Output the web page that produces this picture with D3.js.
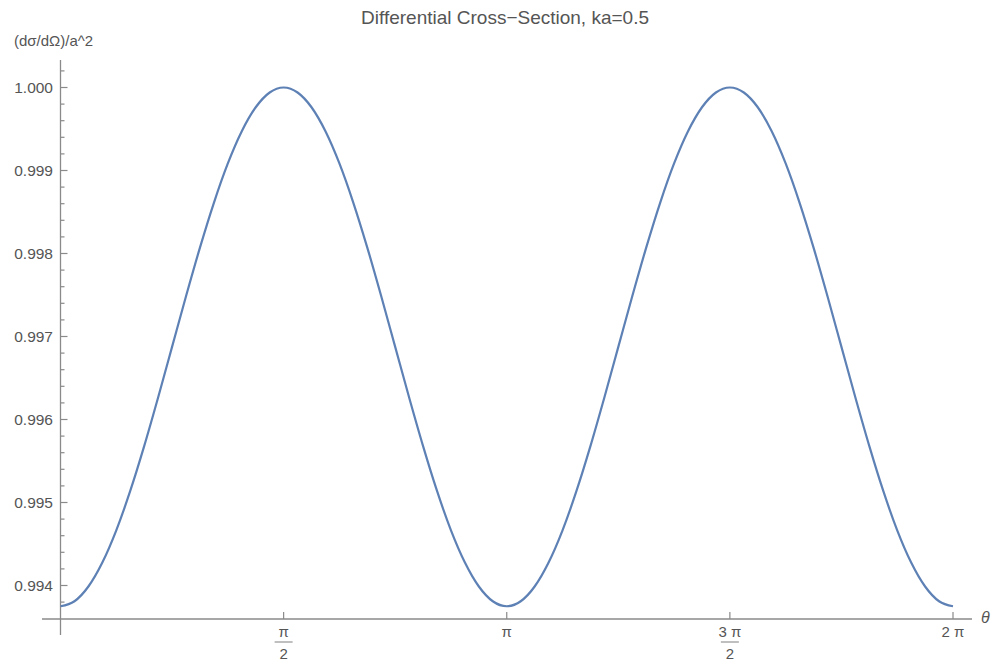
<!DOCTYPE html>
<html><head><meta charset="utf-8">
<script src="https://cdn.jsdelivr.net/npm/d3@7"></script>
<style>
body{margin:0;background:#fff;}
text{font-family:"Liberation Sans",Arial,sans-serif;}
</style></head><body>
<svg id="c" width="994" height="663"></svg>
<script>
// θ in units of π/32, k = 0..64
const thetaSteps = d3.range(0, 65);
const crossSection = [
  0.993750,0.993810,0.993988,0.994277,0.994665,0.995139,0.995679,0.996265,0.996875,
  0.997485,0.998071,0.998611,0.999085,0.999473,0.999762,0.999940,1.000000,
  0.999940,0.999762,0.999473,0.999085,0.998611,0.998071,0.997485,0.996875,
  0.996265,0.995679,0.995139,0.994665,0.994277,0.993988,0.993810,0.993750,
  0.993810,0.993988,0.994277,0.994665,0.995139,0.995679,0.996265,0.996875,
  0.997485,0.998071,0.998611,0.999085,0.999473,0.999762,0.999940,1.000000,
  0.999940,0.999762,0.999473,0.999085,0.998611,0.998071,0.997485,0.996875,
  0.996265,0.995679,0.995139,0.994665,0.994277,0.993988,0.993810,0.993750
];
const yTicks = [0.994,0.995,0.996,0.997,0.998,0.999,1.000];
const xTicks = [Math.PI/2, Math.PI, 3*Math.PI/2, 2*Math.PI];
const xTickNum = ["π","π","3 π","2 π"];
const xTickDen = ["2","","2",""];
const title = "Differential Cross\u2212Section, ka=0.5";
const yLabel = "(dσ/dΩ)/a^2";
const xLabel = "θ";

const svg = d3.select("#c");
const axisColor = "#8a8a8a", textColor = "#555";
const x = d3.scaleLinear().domain([0, 2*Math.PI]).range([60.5, 953]);
const y = d3.scaleLinear().domain([0.994, 1.0]).range([585.5, 87.5]);
const axisY = 619, axisX = 60.5;

// title
svg.append("text").attr("x", 505).attr("y", 24).attr("text-anchor","middle")
  .attr("font-size", 19).attr("fill", textColor).text(title);
// y label
svg.append("text").attr("x", 14).attr("y", 46).attr("font-size", 15).attr("fill", textColor).text(yLabel);
// x label
svg.append("text").attr("x", 981).attr("y", 623).attr("font-size", 16).attr("font-style","italic")
  .attr("fill", textColor).text(xLabel);

// axes lines
svg.append("line").attr("x1", 42).attr("x2", 972).attr("y1", axisY).attr("y2", axisY)
  .attr("stroke", axisColor).attr("stroke-width", 1.3);
svg.append("line").attr("x1", axisX).attr("x2", axisX).attr("y1", 60).attr("y2", 635)
  .attr("stroke", axisColor).attr("stroke-width", 1.3);

// y ticks
const minorY = d3.range(0, 36).map(i => 0.9938 + i*0.0002).filter(v => y(v) >= 62 && y(v) <= 612);
minorY.forEach(v => {
  const isMajor = Math.abs(Math.round(v*1000)/1000 - v) < 1e-7;
  svg.append("line").attr("x1", axisX).attr("x2", axisX + (isMajor ? 7 : 4))
    .attr("y1", y(v)).attr("y2", y(v)).attr("stroke", axisColor).attr("stroke-width", 1.2);
});
yTicks.forEach(v => {
  svg.append("text").attr("x", 53).attr("y", y(v) + 5.5).attr("text-anchor","end")
    .attr("font-size", 15.5).attr("fill", textColor).text(d3.format(".3f")(v));
});

// x ticks
xTicks.forEach((v, i) => {
  svg.append("line").attr("x1", x(v)).attr("x2", x(v)).attr("y1", axisY).attr("y2", axisY - 7)
    .attr("stroke", axisColor).attr("stroke-width", 1.2);
  svg.append("text").attr("x", x(v)).attr("y", 637).attr("text-anchor","middle")
    .attr("font-size", 15).attr("fill", textColor).text(xTickNum[i]);
  if (xTickDen[i]) {
    svg.append("line").attr("x1", x(v) - 9).attr("x2", x(v) + 9).attr("y1", 642).attr("y2", 642)
      .attr("stroke", "#aaa").attr("stroke-width", 1.5);
    svg.append("text").attr("x", x(v)).attr("y", 659).attr("text-anchor","middle")
      .attr("font-size", 15).attr("fill", textColor).text(xTickDen[i]);
  }
});

// curve
const line = d3.line().x((d,i) => x(thetaSteps[i]*Math.PI/32)).y(d => y(d)).curve(d3.curveMonotoneX);
svg.append("path").datum(crossSection).attr("d", line).attr("fill","none")
  .attr("stroke", "#5E81B5").attr("stroke-width", 2.2);
</script></body></html>
